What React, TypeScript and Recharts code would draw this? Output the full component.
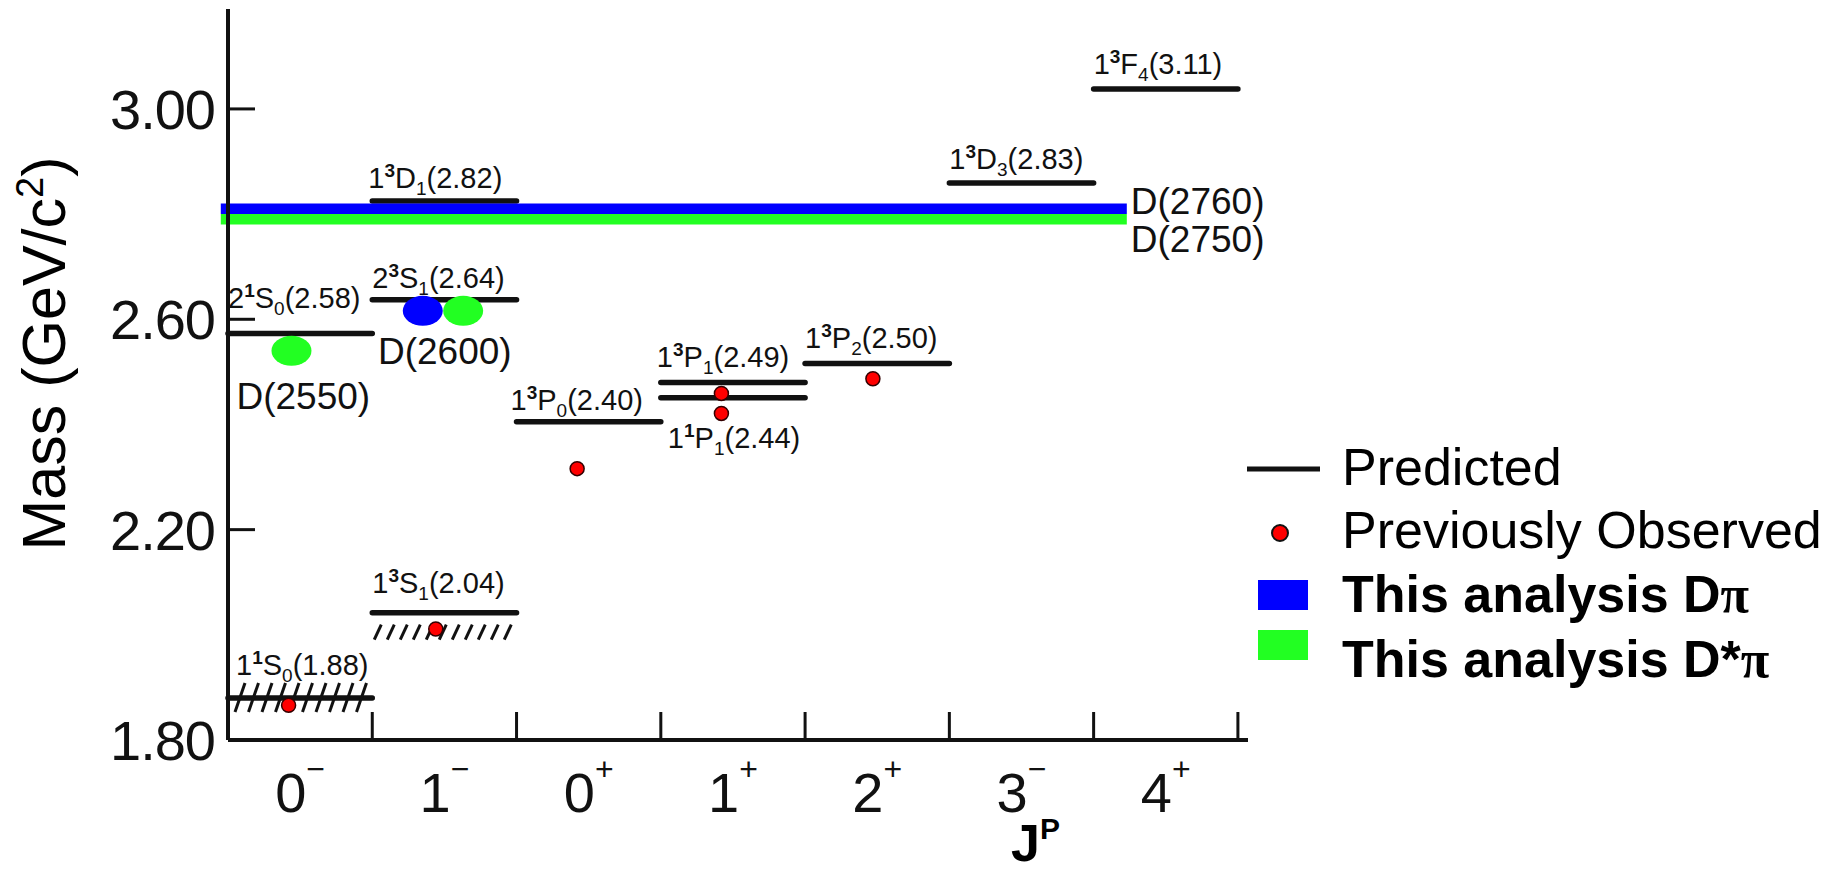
import { ComposedChart, XAxis, YAxis, Scatter, ReferenceLine, ReferenceDot, Legend } from "recharts";

/**
 * D-meson spectrum: predicted levels per J^P column, previously observed
 * states, and the Dπ / D*π results of this analysis.
 */
const W = 1847;
const H = 874;
const INK = "#111";
const BLUE = "#0000ff";
const GREEN = "#22ff22";
const RED = "#ff0000";
const SANS = "'Liberation Sans', Arial, Helvetica, sans-serif";

// J^P columns, left to right
const jpSpin = ["0", "1", "0", "1", "2", "3", "4"];
const jpParity = ["−", "−", "+", "+", "+", "−", "+"];
const jpTicks = [0, 0.5, 1, 1.5, 2, 2.5, 3, 3.5, 4, 4.5, 5, 5.5, 6, 6.5, 7];
const massTicks = [1.8, 2.2, 2.6, 3.0];

// predicted levels (n, 2S+1, L, J, quoted mass, column, plotted mass)
const levelN = ["1", "1", "2", "2", "1", "1", "1", "1", "1", "1", "1"];
const levelMult = ["1", "3", "1", "3", "3", "3", "3", "1", "3", "3", "3"];
const levelL = ["S", "S", "S", "S", "D", "P", "P", "P", "P", "D", "F"];
const levelJ = ["0", "1", "0", "1", "1", "0", "1", "1", "2", "3", "4"];
const levelQuoted = ["1.88", "2.04", "2.58", "2.64", "2.82", "2.40", "2.49", "2.44", "2.50", "2.83", "3.11"];
const levelColumn = [0, 1, 0, 1, 1, 2, 3, 3, 4, 5, 6];
const levelMass = [1.88, 2.042, 2.573, 2.637, 2.825, 2.405, 2.48, 2.451, 2.516, 2.859, 3.038];

// previously observed states
const obsJP = [0.42, 1.44, 2.42, 3.42, 3.42, 4.47];
const obsMass = [1.866, 2.011, 2.316, 2.459, 2.421, 2.487];

// this analysis
const dpiJP = [1.35];
const dpiMass = [2.616];
const dstarJP = [0.44, 1.63];
const dstarMass = [2.54, 2.616];
const resName = ["D(2550)", "D(2600)"];
const resJP = [0.44, 1.49];
const resMass = [2.54, 2.616];
const bandName = ["D(2760)", "D(2750)"];
const bandMass = [2.81, 2.79];
const bandSpan = [-0.05, 6.23];

const legendNames = ["Predicted", "Previously Observed", "This analysis D", "This analysis D*"];

const observed = obsJP.map((x, i) => ({ x, y: obsMass[i] }));
const dpi = dpiJP.map((x, i) => ({ x, y: dpiMass[i] }));
const dstar = dstarJP.map((x, i) => ({ x, y: dstarMass[i] }));

// label placement relative to each level bar (px)
const LABEL_DY: Record<string, number> = {
  "11S0": -23, "13S1": -20, "21S0": -25, "23S1": -12, "13D1": -13, "13P0": -12,
  "13P1": -15, "11P1": 50, "13P2": -15, "13D3": -14, "13F4": -15,
};
const LABEL_DX: Record<string, number> = { "11S0": 8, "11P1": 7, "13D1": -4, "13P0": -6, "13P1": -4 };
const HATCH: Record<string, "cross" | "below"> = { "11S0": "cross", "13S1": "below" };
const RES_OFFSET: Record<string, [number, number]> = { "D(2550)": [-55, 58], "D(2600)": [-65, 53] };
const BAND_DY = [5, 33];

function LevelBar({ x1, y1, x2, i }: { x1: number; y1: number; x2: number; i: number }) {
  const key = `${levelN[i]}${levelMult[i]}${levelL[i]}${levelJ[i]}`;
  const hatch = HATCH[key];
  const strokes = [];
  if (hatch === "cross") {
    for (let hx = x1 + 12; hx < x2 - 4; hx += 13.5)
      strokes.push(<line key={hx} x1={hx - 5} y1={y1 + 14} x2={hx + 5} y2={y1 - 15} stroke={INK} strokeWidth={3} />);
  } else if (hatch === "below") {
    for (let hx = x1 + 6; hx < x2 - 2; hx += 13)
      strokes.push(<line key={hx} x1={hx - 4} y1={y1 + 27} x2={hx + 3} y2={y1 + 12} stroke={INK} strokeWidth={3} />);
  }
  return (
    <g>
      <line x1={x1} y1={y1} x2={x2} y2={y1} stroke={INK} strokeWidth={5.5} strokeLinecap="round" />
      {strokes}
      <text x={x1 + (LABEL_DX[key] ?? 0)} y={y1 + LABEL_DY[key]} fontFamily={SANS} fontSize={29} fill={INK}>
        {levelN[i]}
        <tspan dy={-11} fontSize={19} fontWeight={700}>{levelMult[i]}</tspan>
        <tspan dy={11}>{levelL[i]}</tspan>
        <tspan dy={7} fontSize={19}>{levelJ[i]}</tspan>
        <tspan dy={-7}>({levelQuoted[i]})</tspan>
      </text>
    </g>
  );
}

function Band({ x1, y1, x2, i }: { x1: number; y1: number; x2: number; i: number }) {
  return (
    <g>
      <line x1={x1} y1={y1} x2={x2} y2={y1} stroke={i === 0 ? BLUE : GREEN} strokeWidth={10.5} />
      <text x={x2 + 4} y={y1 + BAND_DY[i]} fontFamily={SANS} fontSize={37} fill={INK}>{bandName[i]}</text>
    </g>
  );
}

function JpTick({ x, y, payload }: any) {
  const v = payload.value as number;
  if (Number.isInteger(v)) {
    return v === 0 ? <g /> : <line x1={x} x2={x} y1={y} y2={y - 28} stroke={INK} strokeWidth={3} />;
  }
  const i = Math.floor(v);
  return (
    <text x={x} y={y + 72} textAnchor="middle" fontFamily={SANS} fontSize={56} fill={INK}>
      {jpSpin[i]}
      <tspan dy={-32} fontSize={32}>{jpParity[i]}</tspan>
    </text>
  );
}

function MassTick({ x, y, payload }: any) {
  const v = payload.value as number;
  return (
    <g>
      <text x={x - 13} y={y} dy="0.36em" textAnchor="end" fontFamily={SANS} fontSize={56} letterSpacing={-1} fill={INK}>
        {v.toFixed(2)}
      </text>
      {v > 1.8 && <line x1={x} x2={x + 27} y1={y} y2={y} stroke={INK} strokeWidth={3} />}
    </g>
  );
}

function LegendBox() {
  const rowY = [55, 118, 182, 247];
  return (
    <svg width={617} height={270} style={{ display: "block" }}>
      <line x1={17} x2={90} y1={39} y2={39} stroke={INK} strokeWidth={5} />
      <circle cx={50} cy={103} r={8} fill={RED} stroke={INK} strokeWidth={2} />
      <rect x={28} y={150} width={50} height={30} fill={BLUE} />
      <rect x={28} y={200} width={50} height={30} fill={GREEN} />
      {legendNames.map((n, i) => (
        <text key={n} x={112} y={rowY[i]} fontFamily={SANS} fontSize={52} fontWeight={i >= 2 ? 700 : 400} fill="#000">
          {n}
          {i >= 2 && <tspan fontFamily="'Liberation Serif', serif">π</tspan>}
        </text>
      ))}
    </svg>
  );
}

export default function App() {
  return (
    <div style={{ position: "fixed", left: 0, top: 0, width: W, height: H, background: "#fff" }}>
      <ComposedChart width={W} height={H} margin={{ top: 9, right: 599, bottom: 74, left: 0 }}>
        <XAxis
          type="number" dataKey="x" domain={[0, 7.07]} ticks={jpTicks} interval={0} allowDataOverflow
          tickLine={false} tickSize={0} tickMargin={0} height={60} tick={JpTick}
          axisLine={{ stroke: INK, strokeWidth: 4 }}
          label={(p: any) => (
            <text x={p.viewBox.x + 783} y={p.viewBox.y + 121} fontFamily={SANS} fontSize={52} fontWeight={700} fill="#000">
              J<tspan dy={-22} fontSize={30}>P</tspan>
            </text>
          )}
        />
        <YAxis
          type="number" dataKey="y" domain={[1.8, 3.19]} ticks={massTicks} interval={0} allowDataOverflow
          width={228} tickLine={false} tickSize={0} tickMargin={0} tick={MassTick}
          axisLine={{ stroke: INK, strokeWidth: 4 }}
          label={(p: any) => (
            <text
              transform={`translate(${p.viewBox.x + 65}, ${p.viewBox.y + p.viewBox.height / 2 - 21}) rotate(-90)`}
              textAnchor="middle" fontFamily={SANS} fontSize={61} fill="#000"
            >
              Mass (GeV/c<tspan dy={-22} fontSize={38}>2</tspan><tspan dy={22}>)</tspan>
            </text>
          )}
        />
        {levelMass.map((m, i) => (
          <ReferenceLine
            key={`lv${i}`} ifOverflow="visible"
            segment={[{ x: levelColumn[i], y: m }, { x: levelColumn[i] + 1, y: m }]}
            shape={(p: any) => <LevelBar x1={p.x1} y1={p.y1} x2={p.x2} i={i} />}
          />
        ))}
        {bandMass.map((m, i) => (
          <ReferenceLine
            key={`band${i}`} ifOverflow="visible"
            segment={[{ x: bandSpan[0], y: m }, { x: bandSpan[1], y: m }]}
            shape={(p: any) => <Band x1={p.x1} y1={p.y1} x2={p.x2} i={i} />}
          />
        ))}
        {resName.map((n, i) => (
          <ReferenceDot
            key={n} x={resJP[i]} y={resMass[i]} r={0} ifOverflow="visible"
            shape={(p: any) => (
              <text x={p.cx + RES_OFFSET[n][0]} y={p.cy + RES_OFFSET[n][1]} fontFamily={SANS} fontSize={37} fill={INK}>{n}</text>
            )}
          />
        ))}
        <Scatter name="Previously Observed" data={observed} isAnimationActive={false}
          shape={(p: any) => <circle cx={p.cx} cy={p.cy} r={7} fill={RED} stroke="#300" strokeWidth={1.5} />} />
        <Scatter name="This analysis Dπ" data={dpi} isAnimationActive={false}
          shape={(p: any) => <ellipse cx={p.cx} cy={p.cy} rx={20} ry={15} fill={BLUE} />} />
        <Scatter name="This analysis D*π" data={dstar} isAnimationActive={false}
          shape={(p: any) => <ellipse cx={p.cx} cy={p.cy} rx={20} ry={15} fill={GREEN} />} />
        <Legend layout="vertical" align="center" verticalAlign="middle"
          wrapperStyle={{ left: 1230, top: 430, width: 617 }} content={() => <LegendBox />} />
      </ComposedChart>
    </div>
  );
}
